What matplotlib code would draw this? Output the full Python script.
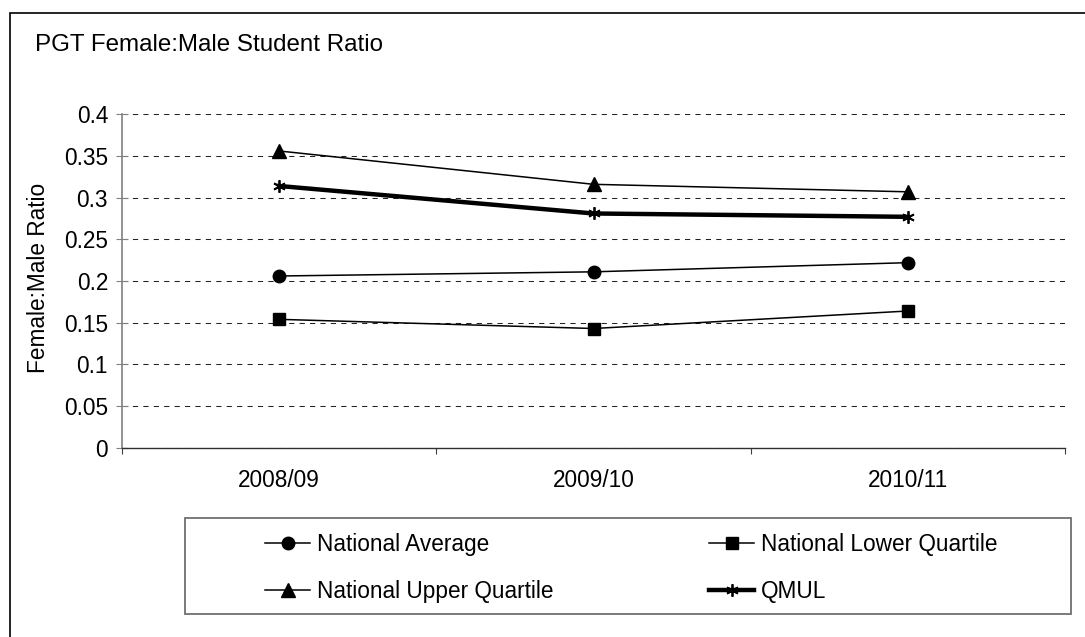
import numpy as np
import matplotlib
matplotlib.use("Agg")
import matplotlib.pyplot as plt
from matplotlib.patches import Rectangle

plt.rcParams['font.family'] = ['Liberation Sans', 'DejaVu Sans']

# data
years = ['2008/09', '2009/10', '2010/11']
nat_average = [0.206, 0.211, 0.222]
nat_lower = [0.154, 0.143, 0.164]
nat_upper = [0.356, 0.316, 0.307]
qmul = [0.314, 0.281, 0.277]
y_ticks = [0, 0.05, 0.1, 0.15, 0.2, 0.25, 0.3, 0.35, 0.4]

W, H = 1085, 637
fig = plt.figure(figsize=(W / 100, H / 100), dpi=100)

# outer chart border (runs off the right/bottom edge)
fig.patches.append(Rectangle((10 / W, -0.05), 1.2, 1 - 13 / H + 0.05,
                             transform=fig.transFigure, fill=False,
                             edgecolor='black', lw=1.2))

ax = fig.add_axes([122 / W, 1 - 447.7 / H, (1065 - 122) / W, (447.7 - 114.3) / H])
x = np.arange(len(years))

ax.plot(x, nat_average, color='black', lw=1.1, marker='o', ms=9, label='National Average', zorder=3)
ax.plot(x, nat_lower, color='black', lw=1.1, marker='s', ms=8.5, label='National Lower Quartile', zorder=3)
ax.plot(x, nat_upper, color='black', lw=1.1, marker='^', ms=9.5, label='National Upper Quartile', zorder=3)
ax.plot(x, qmul, color='black', lw=3.2, marker=(6, 2, 0), ms=9, mew=1.3, label='QMUL', zorder=3)

ax.set_xlim(-0.5, 2.5)
ax.set_ylim(0, 0.4)
ax.set_yticks(y_ticks)
ax.set_yticklabels(['0' if v == 0 else f'{v:g}' for v in y_ticks], fontsize=16.3)
ax.yaxis.grid(True, color='#222222', lw=0.75, dashes=(5, 5))
ax.set_axisbelow(True)

# category ticks on boundaries, labels in the middle
ax.set_xticks([-0.5, 0.5, 1.5, 2.5])
ax.set_xticklabels([])
ax.set_xticks(x, minor=True)
ax.set_xticklabels(years, minor=True, fontsize=16.3)
ax.tick_params(axis='x', which='major', direction='out', length=4.5, color='#404040')
ax.tick_params(axis='x', which='minor', length=0, pad=15)
ax.tick_params(axis='y', direction='inout', length=8, color='#808080', pad=6)

for s in ['top', 'right']:
    ax.spines[s].set_visible(False)
ax.spines['left'].set_color('#808080')
ax.spines['left'].set_linewidth(1.2)
ax.spines['bottom'].set_color('#303030')
ax.spines['bottom'].set_linewidth(1.0)

fig.text(35 / W, 1 - 45 / H, 'PGT Female:Male Student Ratio', fontsize=17.4, va='center', ha='left')
fig.text(39 / W, 1 - 278 / H, 'Female:Male Ratio', fontsize=16.3, rotation=90, va='center', ha='center')

# legend box
fig.patches.append(Rectangle((185 / W, 1 - 614 / H), (1071 - 185) / W, (614 - 518) / H,
                             transform=fig.transFigure, fill=False,
                             edgecolor='#707070', lw=1.3))

h = {l.get_label(): l for l in ax.get_lines()}
leg_kw = dict(frameon=False, fontsize=16.3, handlelength=2.0, handletextpad=0.3,
              labelspacing=1.05, borderpad=0, borderaxespad=0, loc='upper left')
leg1 = fig.legend([h['National Average'], h['National Upper Quartile']],
                  ['National Average', 'National Upper Quartile'],
                  bbox_to_anchor=(265 / W, 1 - 533 / H), **leg_kw)
leg2 = fig.legend([h['National Lower Quartile'], h['QMUL']],
                  ['National Lower Quartile', 'QMUL'],
                  bbox_to_anchor=(709 / W, 1 - 533 / H), **leg_kw)

fig.savefig('out.png', dpi=100)
